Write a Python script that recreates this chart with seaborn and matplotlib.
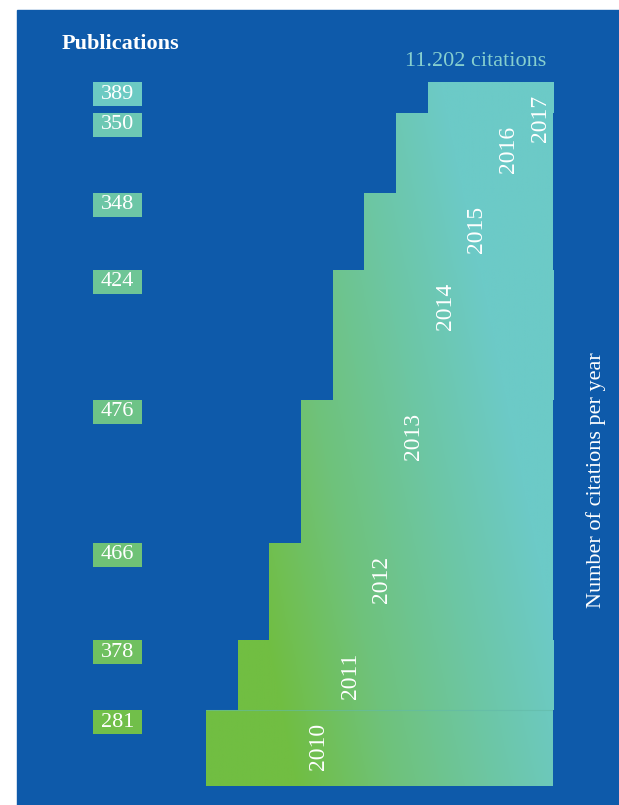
import numpy as np
import matplotlib
matplotlib.use("Agg")
import matplotlib.pyplot as plt
import matplotlib.transforms as mtransforms
from matplotlib.patches import Rectangle
import seaborn as sns

# ---- data ----
years = [2010, 2011, 2012, 2013, 2014, 2015, 2016, 2017]
publications = [281, 378, 466, 476, 424, 348, 350, 389]
citations = [1209, 1114, 1544, 2276, 2069, 1225, 1273, 492]
total_label = "11.202 citations"

sns.set_theme(style="white")
plt.rcParams['font.family'] = ['Liberation Serif', 'DejaVu Serif']

W, H = 619, 805
fig = plt.figure(figsize=(W / 100, H / 100), dpi=100, facecolor="white")

BLUE = "#0e5aaa"
bg = Rectangle((17 / W, 0), 1 - 17 / W, 1 - 10 / H,
               transform=fig.transFigure, color=BLUE, zorder=-10)
fig.patches.append(bg)

cmap = sns.blend_palette(["#71be42", "#6fc27a", "#6dc6a2", "#6ccac7"], as_cmap=True)

total = sum(citations)
xmax = 10.95
ax = fig.add_axes([206 / W, (H - 786) / H, (553 - 206) / W, (786 - 82) / H])
ax.set_xlim(0, xmax)
ax.set_ylim(0, total)
ax.axis("off")
ax.patch.set_alpha(0)
ax.set_zorder(5)

bottoms = np.concatenate([[0], np.cumsum(citations)[:-1]])
px_per_unit_y = (786 - 82) / total

# gradient image over the whole region
nx, ny = 400, 400
gx = np.linspace(0, xmax, nx)
gy = np.linspace(0, total, ny)
GX, GY = np.meshgrid(gx, gy)
T = np.clip((GX * 31.7 - 90) / 290 + 0.5 * GY / total, 0, 1)

bars = ax.barh(y=bottoms, width=[xmax - i for i in range(len(years))],
               left=list(range(len(years))), height=citations, align="edge",
               color="none", edgecolor="none")
for b in bars:
    im = ax.imshow(T, cmap=cmap, vmin=0, vmax=1, origin="lower",
                   extent=[0, xmax, 0, total], aspect="auto", zorder=1)
    im.set_clip_path(b)

# faint separator line above 2010
ax.plot([0, xmax], [citations[0], citations[0]], color="#62b9a8", lw=0.8, alpha=0.6, zorder=2)

# year labels
off = 13 / px_per_unit_y
for i, (yr, b0, c) in enumerate(zip(years, bottoms, citations)):
    top = b0 + c
    ax.text(i + 3.55, top - off, str(yr), rotation=90, ha="center", va="top",
            color="white", fontsize=17, zorder=3)

# publication boxes
trans = mtransforms.blended_transform_factory(fig.transFigure, ax.transData)
box_h = 24 / px_per_unit_y
for i, (p, b0, c) in enumerate(zip(publications, bottoms, citations)):
    top = b0 + c
    col = cmap(0.05 + 0.13 * i)
    ax.add_patch(Rectangle((93 / W, top - box_h), 49 / W, box_h, transform=trans,
                           facecolor=col, edgecolor="none", clip_on=False, zorder=3))
    ax.text(117.5 / W, top - box_h / 2, str(p), transform=trans, ha="center",
            va="center", color="white", fontsize=16, clip_on=False, zorder=4)

fig.text(120 / W, 1 - 44 / H, "Publications", ha="center", va="center",
         color="white", fontsize=16, fontweight="bold")
fig.text(476 / W, 1 - 61 / H, total_label, ha="center", va="center",
         color="#86cfcf", fontsize=16)
fig.text(596 / W, 1 - 480 / H, "Number of citations per year", rotation=90,
         ha="center", va="center", color="white", fontsize=16)

fig.savefig("out.png", dpi=100, facecolor="white")
